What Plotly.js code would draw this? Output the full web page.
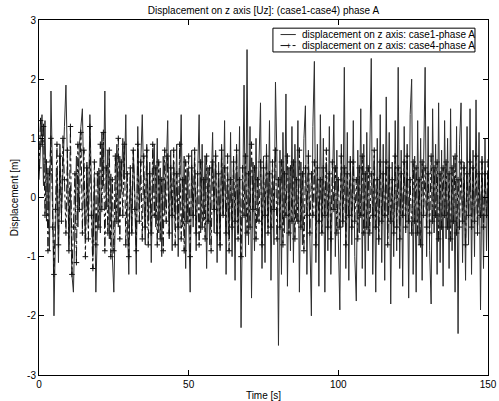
<!DOCTYPE html>
<html>
<head>
<meta charset="utf-8">
<script src="https://cdn.plot.ly/plotly-3.0.1.min.js"></script>
<style>
  html, body { margin: 0; padding: 0; background: #fff; }
  #plot { width: 499px; height: 401px; }
</style>
</head>
<body>
<div id="plot"></div>
<script>
// Sample interval of the recorded displacement [s]
const sampleStep = 0.5;

// Case 1, phase A: vertical displacement [m], one value per sample
const case1Uz = [
  0.3, 1.0, 1.4, 0.2, 1.3, -0.4, 0.5, -0.9, 1.8, 0.4,
  -2.0, -0.6, 0.4, -1.1, 0.9, -0.3, 0.6, 1.2, 1.9, 0.3,
  -0.8, 0.2, -1.3, -1.6, -0.2, 0.7, -0.5, 0.9, 1.2, 1.5,
  0.1, -0.7, 0.6, -0.4, 1.4, 0.2, -1.0, 0.3, -1.6, -0.5,
  0.5, -0.6, 1.1, 0.2, 1.8, -0.2, 0.8, -0.7, 0.4, -1.0,
  -1.6, -0.3, 0.9, -0.5, 0.7, 0.1, 1.0, 0.3, 1.4, -0.4,
  -1.3, 0.4, -0.6, 0.8, 0.1, -1.3, 1.2, -0.2, 0.6, 1.4,
  0.2, -0.8, 0.9, -0.4, 0.6, -1.1, 0.3, 0.9, -0.5, 1.0,
  -0.6, 0.5, -1.0, 0.7, -0.3, 0.4, 1.3, -0.7, 0.8, -0.9,
  0.6, -0.4, 0.9, -1.0, 0.2, 1.4, -0.5, 0.7, -1.2, 0.5,
  -0.3, -1.6, 0.8, -0.5, 0.6, -0.9, 0.4, 1.4, -0.6, 0.9,
  -0.4, 0.7, -1.2, 0.5, -0.8, 0.3, 1.1, -0.6, 0.8, -1.1,
  0.6, -0.9, 0.9, -0.3, 1.3, -1.3, 0.4, -0.7, 1.1, -1.0,
  0.7, -1.4, 0.9, -0.6, 1.2, -2.2, 0.5, 1.9, -1.0, 2.5,
  -0.8, 1.2, -1.7, 0.6, -0.9, 1.0, -0.4, 0.8, 1.6, -1.2,
  0.7, -1.1, 0.9, -0.5, 1.3, -1.4, 0.4, -0.8, 1.95, 0.6,
  -2.5, 0.8, -1.3, 1.1, -0.6, 1.75, -1.5, 0.5, -0.9, 1.2,
  -1.1, 0.9, -0.4, 1.3, -1.6, 0.6, -0.8, 1.0, 1.55, -1.3,
  0.8, -0.7, -2.0, 1.2, 2.3, -1.1, 0.9, -1.5, 1.4, -0.6,
  1.0, -1.6, 0.6, -0.9, 1.2, -1.3, 0.5, 1.4, -1.0, 0.8,
  -0.7, -1.9, 0.9, -0.5, 2.2, -1.2, 1.1, -1.4, 0.7, -0.8,
  1.3, -1.0, -1.75, 0.8, -0.6, 1.5, -1.2, 0.9, -1.5, 1.1,
  -0.9, 1.2, 2.35, -1.3, 0.7, -1.6, 1.0, -0.8, 1.4, -1.1,
  0.9, -1.4, 1.7, -0.7, 1.1, -1.8, 0.6, -1.0, 1.3, -0.9,
  2.2, -1.2, 0.8, -1.5, 1.2, -0.6, 0.9, -1.7, 1.4, 2.0,
  -1.3, 0.7, -1.6, 1.3, -0.8, 1.0, -1.4, 0.6, 2.2, -1.0,
  1.2, -0.9, -1.8, 1.5, -0.6, 0.9, -1.3, 1.6, -1.1, 0.8,
  -1.5, 1.3, -0.7, 1.0, -1.2, 1.5, -0.9, 0.7, -1.6, 1.2,
  -2.3, 0.9, 1.6, -1.1, 0.6, -1.4, 1.2, -0.8, 1.5, -1.3,
  0.8, -1.0, 1.65, -0.6, 1.1, -1.9, 0.7, -1.2, 1.0, -0.9,
  0.4
];

// Case 4, phase A: vertical displacement [m], one value per sample
const case4Uz = [
  0.5, 1.3, 0.9, 1.2, -0.3, 0.6, -0.9, 0.4, 1.0, -0.5,
  -1.3, -0.2, 0.9, -0.8, 0.7, -0.4, 1.0, 0.3, -0.6, 0.8,
  -0.9, 1.2, -1.3, -0.5, 0.4, -1.1, 0.9, -0.2, 1.1, -0.6,
  0.8, -1.0, 0.5, -0.7, 1.2, -0.3, -1.2, 0.6, -0.8, 0.4,
  -0.5, 0.9, -0.2, 1.1, -0.9, 0.5, -0.6, 0.8, -1.0, 0.3,
  -0.9, 0.7, -0.4, 1.0, -0.7, 0.6, -0.3, 0.9, -0.8, 0.4,
  -1.0, 0.5, -0.6, 0.8, -0.2, -0.9, 0.9, -0.4, 0.6, -0.7,
  0.7, -0.5, 0.8, -0.8, 0.4, -0.6, 0.9, -0.3, 0.5, -0.8,
  0.6, -0.7, 0.3, -0.9, 0.8, -0.4, 0.7, -0.6, 0.5, -0.3,
  0.8, -0.8, 0.4, -0.5, 0.9, -0.7, 0.3, -0.9, 0.6, -0.4,
  0.7, -1.0, 0.5, -0.3, 0.8, -0.6, 0.4, -0.8, 0.6, -0.5,
  0.3, -0.7, 0.7, -0.4, 0.5, -0.9, 0.6, -0.2, 0.7, -0.6,
  0.4, -0.8, 0.8, -0.3, 0.5, -0.6, 0.7, -0.9, 0.3, -0.5,
  0.6, -0.4, 0.8, -0.7, 0.3, -1.0, 0.5, -0.3, 0.7, -0.6,
  0.4, -0.5, 0.9, -0.2, 0.5, -0.7, 0.3, -0.4, 0.6, -0.8,
  0.5, -0.3, 0.7, -0.6, 0.4, -0.5, 0.6, -0.2, 0.8, -0.7,
  0.3, -0.5, 0.6, -0.8, 0.4, -0.3, 0.7, -0.6, 0.5, -0.4,
  0.6, -0.7, 0.3, -0.4, 0.8, -0.5, 0.4, -0.9, 0.5, -0.3,
  0.7, -0.6, 0.4, -0.3, 0.6, -0.8, 0.5, -0.4, 0.3, -0.6,
  0.5, -0.3, 0.8, -0.5, 0.4, -0.7, 0.6, -0.2, 0.5, -0.6,
  0.3, -0.5, 0.7, -0.4, 0.5, -0.8, 0.4, -0.3, 0.6, -0.5,
  0.6, -0.4, 0.3, -0.7, 0.5, -0.3, 0.7, -0.6, 0.4, -0.5,
  0.5, -0.6, 0.4, -0.3, 0.8, -0.5, 0.3, -0.7, 0.6, -0.4,
  0.4, -0.3, 0.6, -0.8, 0.5, -0.4, 0.3, -0.6, 0.7, -0.5,
  0.5, -0.7, 0.4, -0.3, 0.6, -0.5, 0.7, -0.4, 0.3, -0.6,
  0.6, -0.4, 0.5, -0.6, 0.3, -0.8, 0.6, -0.3, 0.5, -0.5,
  0.4, -0.6, 0.7, -0.4, 0.5, -0.3, 0.6, -0.7, 0.4, -0.5,
  0.5, -0.3, 0.6, -0.5, 0.4, -0.7, 0.5, -0.4, 0.7, -0.6,
  0.3, -0.5, 0.6, -0.4, 0.5, -0.8, 0.4, -0.3, 0.6, -0.5,
  0.5, -0.4, 0.7, -0.6, 0.4, -0.3, 0.6, -0.5, 0.4, -0.3,
  0.6
];

// Series names shown in the legend box
const seriesNames = [
  "displacement on z axis: case1-phase A",
  "displacement on z axis: case4-phase A"
];

// Axis ticks
const timeTicks = [0, 50, 100, 150];
const timeTickText = ["0", "50", "100", "150"];
const dispTicks = [-3, -2, -1, 0, 1, 2, 3];
const dispTickText = ["-3", "-2", "-1", "0", "1", "2", "3"];

// Time stamps of the samples
const time = case1Uz.map((_, i) => i * sampleStep);

const FONT = "Liberation Sans, Arial, Helvetica, sans-serif";
const INK = "#111";

const traces = [
  {
    x: time, y: case1Uz, type: "scatter", mode: "lines",
    name: seriesNames[0], showlegend: false,
    line: { color: "#2e2e2e", width: 1 }
  },
  {
    x: time, y: case4Uz, type: "scatter", mode: "lines+markers",
    name: seriesNames[1], showlegend: false,
    line: { color: INK, width: 1, dash: "dashdot" },
    marker: { symbol: "cross-thin", size: 4, color: INK, line: { color: INK, width: 1 } }
  }
];

// Compact boxed legend in the upper right corner (paper coordinates)
const box = { x0: 0.521, x1: 0.971, y0: 0.910, y1: 0.977 };
const rowY = [0.959, 0.928];
const sampleX = [0.538, 0.572];
const textX = 0.582;

const shapes = [
  { type: "rect", xref: "paper", yref: "paper", x0: box.x0, x1: box.x1, y0: box.y0, y1: box.y1,
    line: { color: "#000", width: 1 }, fillcolor: "#fff", layer: "above" },
  { type: "line", xref: "paper", yref: "paper", x0: sampleX[0], x1: sampleX[1], y0: rowY[0], y1: rowY[0],
    line: { color: "#2e2e2e", width: 1 }, layer: "above" },
  { type: "line", xref: "paper", yref: "paper", x0: sampleX[0], x1: sampleX[1], y0: rowY[1], y1: rowY[1],
    line: { color: INK, width: 1, dash: "dashdot" }, layer: "above" }
];

const annotations = [
  { xref: "paper", yref: "paper", x: textX, y: rowY[0], xanchor: "left", yanchor: "middle",
    text: seriesNames[0], showarrow: false, font: { family: FONT, size: 10, color: "#000" } },
  { xref: "paper", yref: "paper", x: textX, y: rowY[1], xanchor: "left", yanchor: "middle",
    text: seriesNames[1], showarrow: false, font: { family: FONT, size: 10, color: "#000" } },
  { xref: "paper", yref: "paper", x: (sampleX[0] + sampleX[1]) / 2, y: rowY[1], xanchor: "center", yanchor: "middle",
    text: "+", showarrow: false, font: { family: FONT, size: 9, color: INK } }
];

const axisCommon = {
  showline: true, linecolor: "#000", linewidth: 1, mirror: "ticks",
  ticks: "inside", ticklen: 5, tickwidth: 1, tickcolor: "#000",
  showgrid: false, zeroline: false, tickmode: "array",
  tickfont: { family: FONT, size: 10, color: "#000" }
};

const layout = {
  width: 499, height: 401,
  margin: { l: 39, r: 11, t: 20, b: 26 },
  paper_bgcolor: "#fff", plot_bgcolor: "#fff",
  font: { family: FONT, size: 10, color: "#000" },
  title: {
    text: "Displacement on z axis [Uz]: (case1-case4) phase A",
    font: { family: FONT, size: 10, color: "#000" },
    x: 0.528, xanchor: "center", y: 0.975, yanchor: "middle"
  },
  xaxis: Object.assign({}, axisCommon, {
    range: [0, 150], tickvals: timeTicks, ticktext: timeTickText,
    title: { text: "Time [s]", font: { family: FONT, size: 10, color: "#000" }, standoff: 3 }
  }),
  yaxis: Object.assign({}, axisCommon, {
    range: [-3, 3], tickvals: dispTicks, ticktext: dispTickText,
    title: { text: "Displacement [m]", font: { family: FONT, size: 10, color: "#000" }, standoff: 6 }
  }),
  showlegend: false,
  shapes: shapes,
  annotations: annotations
};

Plotly.newPlot("plot", traces, layout, { displayModeBar: false, staticPlot: true });
</script>
</body>
</html>
